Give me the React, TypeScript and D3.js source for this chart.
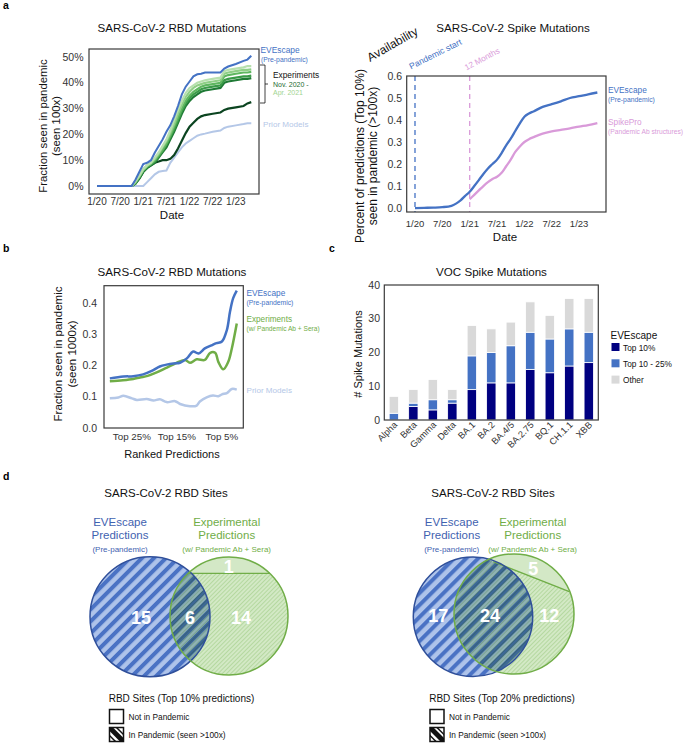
import React from 'react';
import * as d3 from 'd3';

const FONT = "'Liberation Sans', Arial, Helvetica, sans-serif";
const BLUE = '#4472c4';
const LIGHTBLUE = '#b4c7e7';
const PINK = '#d99ad9';
const GREEN = '#70ad47';

// ---------- Panel a (left): RBD mutations over time (months since Jan 2020)
const rbdMonths = [0, 9, 10, 11, 12, 13, 14, 15, 16, 17, 18, 19, 20, 21, 22, 23, 24, 25, 26, 27, 28, 30, 32, 33, 34, 36, 38, 39, 40];
const rbdEVEscape = [0, 0, 2.5, 5.5, 8.5, 9, 10, 13, 15.5, 18, 21, 23.5, 27, 31, 35.5, 38.5, 40.5, 42.5, 43.3, 43.5, 44, 44, 44, 45.5, 46.3, 47.3, 48.5, 49, 50.5];
const rbdPrior = [null, 0, 0, 0, 0, 1.5, 3, 4.5, 5.5, 5.8, 6, 9, 11, 13, 15, 16.5, 17.5, 18.5, 19.5, 20, 20.3, 21, 21.5, 22.5, 23, 23.5, 24, 24.3, 24.3];
const rbdExp1 = [null, 0, 2, 4, 6.5, 8, 9, 11, 13, 15.5, 18, 21.5, 25.5, 29.5, 33, 36, 38, 39, 40, 40.5, 41, 41.5, 42, 44.5, 45, 45.5, 46, 46.5, 46.5];
const rbdExp2 = [null, 0, 1.5, 4, 6.5, 8, 9, 10.5, 12.5, 15, 17.5, 20.5, 24, 28, 31.5, 34.5, 36.5, 38, 39, 39.5, 40, 40.5, 41, 43.5, 44, 44.5, 45, 45, 45.2];
const rbdExp3 = [null, 0, 1.5, 3.5, 6, 7.5, 8.5, 10, 12, 14, 16.5, 19.5, 23, 26.5, 30, 33, 35, 36.5, 37.5, 38.5, 39, 39.5, 40, 42.5, 43, 43.5, 44, 44, 44.2];
const rbdExp4 = [null, 0, 1, 3.5, 6, 7.5, 8.5, 9.5, 11.5, 13.5, 16, 19, 22, 25.5, 29, 32, 34, 35.5, 36.5, 37.5, 38, 38.5, 39, 41, 41.5, 42, 42.5, 42.5, 42.8];
const rbdExp5 = [null, 0, 1, 3, 5.5, 7, 8, 9, 11, 13, 15, 18, 21, 24.5, 28, 31, 33, 34.5, 35.5, 36.5, 37, 37.5, 38, 40, 40.5, 41, 41.5, 41.5, 41.8];
const rbdExp6 = [null, 0, 1, 3, 5.5, 7, 8, 9, 9.5, 10, 10, 10.5, 12, 14.5, 17.5, 20.5, 23, 24.5, 26, 27, 27.5, 28, 28.5, 29.5, 30, 30.5, 31, 32, 32.5];
const rbdExpSeries = [rbdExp6, rbdExp5, rbdExp4, rbdExp3, rbdExp2, rbdExp1];
const rbdExpColors = ['#0b4420', '#1f7a35', '#3a9a48', '#5fb760', '#8fcf86', '#b7e0ae'];
const rbdYTicks = [0, 10, 20, 30, 40, 50];

const dateTickMonths = [0, 6, 12, 18, 24, 30, 36];
const dateTickLabels = ['1/20', '7/20', '1/21', '7/21', '1/22', '7/22', '1/23'];

// ---------- Panel a (right): Spike mutations
const spikeMonths = [0, 2, 4, 6, 8, 9, 10, 11, 12, 13, 14, 15, 16, 17, 18, 19, 20, 21, 22, 23, 24, 25, 26, 28, 30, 32, 34, 36, 38, 40];
const spikeEVEscape = [0, 0.001, 0.002, 0.004, 0.01, 0.02, 0.035, 0.055, 0.074, 0.1, 0.127, 0.155, 0.18, 0.2, 0.22, 0.25, 0.285, 0.315, 0.35, 0.385, 0.415, 0.43, 0.439, 0.46, 0.472, 0.485, 0.5, 0.508, 0.517, 0.525];
const spikeProMonths = [12, 13, 14, 15, 16, 17, 18, 19, 20, 21, 22, 23, 24, 25, 26, 28, 30, 32, 34, 36, 38, 40];
const spikePro = [0.04, 0.06, 0.08, 0.1, 0.118, 0.132, 0.142, 0.16, 0.19, 0.22, 0.255, 0.28, 0.3, 0.313, 0.322, 0.338, 0.348, 0.355, 0.362, 0.37, 0.377, 0.386];
const spikeYTicks = [0, 0.1, 0.2, 0.3, 0.4, 0.5, 0.6];
const availabilityMonths = [0, 12];

// ---------- Panel b: ranked predictions (top x%)
const rankBluePct = [29.9, 26.9, 24.7, 22.5, 20.6, 18.8, 17.3, 15.8, 14.3, 12.8, 11.4, 10.2, 8.8, 7.3, 6.2, 5.0, 3.9, 3.2, 2.5, 1.7];
const rankBlueVal = [0.159, 0.165, 0.166, 0.172, 0.183, 0.197, 0.203, 0.207, 0.209, 0.223, 0.245, 0.239, 0.255, 0.265, 0.272, 0.277, 0.314, 0.373, 0.416, 0.44];
const rankGreenPct = [29.9, 27, 24.7, 23.2, 21.5, 19.5, 17.5, 15.0, 13.2, 12.1, 10.6, 8.8, 7.6, 6.5, 5.8, 4.7, 3.6, 2.8, 1.7];
const rankGreenVal = [0.15, 0.153, 0.157, 0.162, 0.167, 0.178, 0.192, 0.209, 0.218, 0.209, 0.22, 0.218, 0.241, 0.241, 0.212, 0.188, 0.212, 0.255, 0.335];
const rankPriorPct = [29.9, 28, 26.9, 25, 23.9, 21.7, 20.2, 18.8, 17.3, 15.4, 14.3, 12.1, 10.6, 9.9, 8.4, 7.0, 5.8, 5.0, 3.9, 2.8, 1.7];
const rankPriorVal = [0.095, 0.098, 0.103, 0.095, 0.09, 0.093, 0.088, 0.092, 0.083, 0.086, 0.077, 0.07, 0.072, 0.085, 0.098, 0.104, 0.102, 0.108, 0.112, 0.125, 0.123];
const rankXTicks = [25, 15, 5];
const rankYTicks = [0, 0.1, 0.2, 0.3, 0.4];

// ---------- Panel c: VOC spike mutations
const vocNames = ['Alpha', 'Beta', 'Gamma', 'Delta', 'BA.1', 'BA.2', 'BA.4/5', 'BA.2.75', 'BQ.1', 'CH.1.1', 'XBB'];
const vocTop10 = [0, 4, 3, 5, 9, 11, 11, 15, 14, 16, 17];
const vocTop10to25 = [2, 1, 3, 1, 10, 9, 11, 11, 10, 11, 9];
const vocOther = [5, 4, 6, 3, 9, 7, 7, 9, 7, 9, 10];
const vocKeys = ['Top 10%', 'Top 10 - 25%', 'Other'];
const vocColors = ['#000080', '#4472c4', '#d9d9d9'];
const vocYTicks = [0, 10, 20, 30, 40];

// ---------- Panel d: Venn counts [EVEscape only, both, experimental only (in pandemic), experimental not in pandemic]
const vennTop10 = [15, 6, 14, 1];
const vennTop20 = [17, 24, 12, 5];

function Box({ x0, x1, y0, y1 }) {
  return <rect x={x0} y={y0} width={x1 - x0} height={y1 - y0} fill="none" stroke="#3a3a3a" strokeWidth={1.2} />;
}

function Venn({ id, blue, green, chord, counts, numPos, blueLabelX, greenLabelX, legendTitle, legendX }) {
  const [p1, p2] = chord;
  const dx = p2[0] - p1[0], dy = p2[1] - p1[1];
  const a = [p1[0] - dx, p1[1] - dy];
  const b = [p2[0] + dx, p2[1] + dy];
  const poly = `${a[0]},${a[1]} ${b[0]},${b[1]} ${b[0]},${b[1] - 200} ${a[0]},${a[1] - 200}`;
  return (
    <g>
      <defs>
        <clipPath id={`gc-${id}`}><circle cx={green[0]} cy={green[1]} r={green[2]} /></clipPath>
      </defs>
      <text x={blueLabelX} y={525.5} textAnchor="middle" fontSize={11.5} fill="#3f62b0">EVEscape</text>
      <text x={blueLabelX} y={539} textAnchor="middle" fontSize={11.5} fill="#3f62b0">Predictions</text>
      <text x={blueLabelX} y={551.5} textAnchor="middle" fontSize={8} fill="#3f62b0">(Pre-pandemic)</text>
      <text x={greenLabelX} y={525.5} textAnchor="middle" fontSize={11.5} fill={GREEN}>Experimental</text>
      <text x={greenLabelX} y={539} textAnchor="middle" fontSize={11.5} fill={GREEN}>Predictions</text>
      <text x={greenLabelX} y={551.5} textAnchor="middle" fontSize={8} fill={GREEN}>(w/ Pandemic Ab + Sera)</text>

      <g style={{ isolation: 'isolate' }}>
        <circle cx={blue[0]} cy={blue[1]} r={blue[2]} fill="url(#blueStripes)" />
        <circle cx={green[0]} cy={green[1]} r={green[2]} fill="url(#greenHatch)" opacity={0.75} style={{ mixBlendMode: 'multiply' }} />
      </g>
      <polygon points={poly} clipPath={`url(#gc-${id})`} fill="#d3e8c6" />
      <line x1={p1[0]} y1={p1[1]} x2={p2[0]} y2={p2[1]} stroke={GREEN} strokeWidth={1.3} />
      <circle cx={blue[0]} cy={blue[1]} r={blue[2]} fill="none" stroke="#2f4f9a" strokeWidth={1.5} />
      <circle cx={green[0]} cy={green[1]} r={green[2]} fill="none" stroke={GREEN} strokeWidth={1.5} />
      {counts.map((c, i) => (
        <text key={i} x={numPos[i][0]} y={numPos[i][1] + 6.5} textAnchor="middle" fontSize={18} fontWeight="bold" fill="#fff">{c}</text>
      ))}

      <text x={legendX + 72} y={701.5} textAnchor="middle" fontSize={10} fill="#111">{legendTitle}</text>
      <rect x={legendX} y={709.5} width={14} height={14} fill="#fff" stroke="#111" strokeWidth={1.5} />
      <text x={legendX + 19} y={719.5} fontSize={8.3} fill="#111">Not in Pandemic</text>
      <defs>
        <clipPath id={`lg-${id}`}><rect x={legendX} y={727.5} width={14} height={14} /></clipPath>
      </defs>
      <g clipPath={`url(#lg-${id})`}>
        <rect x={legendX} y={727.5} width={14} height={14} fill="#fff" />
        <line x1={legendX - 2} y1={725.5} x2={legendX + 16} y2={743.5} stroke="#111" strokeWidth={5} />
        <line x1={legendX + 5} y1={725.5} x2={legendX + 20} y2={740.5} stroke="#111" strokeWidth={1.5} />
        <line x1={legendX - 6} y1={729.5} x2={legendX + 9} y2={744.5} stroke="#111" strokeWidth={1.5} />
      </g>
      <rect x={legendX} y={727.5} width={14} height={14} fill="none" stroke="#111" strokeWidth={1.5} />
      <text x={legendX + 19} y={737.5} fontSize={8.3} fill="#111">In Pandemic (seen &gt;100x)</text>
    </g>
  );
}

export default function App() {
  // ----- panel a left
  const xA1 = d3.scaleLinear().domain([-2.07, 42]).range([89, 259]);
  const yA1 = d3.scaleLinear().domain([-3.1, 53.1]).range([194, 49]);
  const lineA1 = d3.line().defined((d) => d[1] != null).x((d) => xA1(d[0])).y((d) => yA1(d[1]));
  const ptsA1 = (vals) => rbdMonths.map((m, i) => [m, vals[i]]);

  // ----- panel a right
  const xA2 = d3.scaleLinear().domain([-1.82, 41.9]).range([406.7, 606]);
  const yA2 = d3.scaleLinear().domain([-0.018, 0.6]).range([212, 76]);
  const lineA2 = d3.line().x((d) => xA2(d[0])).y((d) => yA2(d[1])).curve(d3.curveMonotoneX);

  // ----- panel b
  const xB = d3.scaleLinear().domain([31.2, 0.25]).range([104, 243.3]);
  const yB = d3.scaleLinear().domain([0, 0.456]).range([428, 285.7]);
  const lineB = d3.line().x((d) => xB(d[0])).y((d) => yB(d[1])).curve(d3.curveCatmullRom.alpha(0.5));

  // ----- panel c
  const xC = d3.scaleBand().domain(vocNames).range([384.3, 598.3]).paddingInner(0.52).paddingOuter(0.25);
  const yC = d3.scaleLinear().domain([0, 40]).range([420, 285]);
  const vocRows = vocNames.map((n, i) => ({ name: n, 'Top 10%': vocTop10[i], 'Top 10 - 25%': vocTop10to25[i], Other: vocOther[i] }));
  const stacked = d3.stack().keys(vocKeys)(vocRows);

  const tickFs = 10.5;
  const tickFill = '#333';

  return (
    <svg width={685} height={743} style={{ position: 'absolute', left: 0, top: 0, background: '#fff' }} fontFamily={FONT}>
      <defs>
        <pattern id="blueStripes" patternUnits="userSpaceOnUse" width={8.5} height={8.5} patternTransform="rotate(45)">
          <rect width={8.5} height={8.5} fill="#aec3ea" />
          <rect width={4} height={8.5} fill="#4a72c4" />
        </pattern>
        <pattern id="greenHatch" patternUnits="userSpaceOnUse" width={3} height={3} patternTransform="rotate(45)">
          <rect width={3} height={3} fill="#c4e2b2" />
          <rect width={1} height={3} fill="#9ccb80" />
        </pattern>
      </defs>

      {/* panel letters */}
      <text x={3} y={9} fontSize={10.5} fontWeight="bold">a</text>
      <text x={3} y={252} fontSize={10.5} fontWeight="bold">b</text>
      <text x={329} y={252} fontSize={10.5} fontWeight="bold">c</text>
      <text x={3} y={480} fontSize={10.5} fontWeight="bold">d</text>

      {/* ================= Panel a left ================= */}
      <text x={172} y={32} textAnchor="middle" fontSize={11.6} fill="#111">SARS-CoV-2 RBD Mutations</text>
      <text transform="translate(47,126) rotate(-90)" textAnchor="middle" fontSize={11.4} fill="#111">Fraction seen in pandemic</text>
      <text transform="translate(59.5,126) rotate(-90)" textAnchor="middle" fontSize={11.4} fill="#111">(seen 100x)</text>
      {rbdYTicks.map((t) => (
        <text key={t} x={83.5} y={yA1(t) + 3.7} textAnchor="end" fontSize={tickFs} fill={tickFill}>{t}%</text>
      ))}
      {dateTickMonths.map((m, i) => (
        <text key={m} x={xA1(m)} y={205} textAnchor="middle" fontSize={10} fill={tickFill}>{dateTickLabels[i]}</text>
      ))}
      <text x={172} y={219} textAnchor="middle" fontSize={11.5} fill="#111">Date</text>
      <path d={lineA1(ptsA1(rbdPrior))} fill="none" stroke={LIGHTBLUE} strokeWidth={2} />
      {rbdExpSeries.map((s, i) => (
        <path key={i} d={lineA1(ptsA1(s))} fill="none" stroke={rbdExpColors[i]} strokeWidth={2.2} />
      ))}
      <path d={lineA1(ptsA1(rbdEVEscape))} fill="none" stroke={BLUE} strokeWidth={2} />
      <Box x0={89} x1={259} y0={49} y1={194} />
      <text x={260.5} y={53} fontSize={8.4} fill={BLUE}>EVEscape</text>
      <text x={261} y={61.5} fontSize={6.8} fill={BLUE}>(Pre-pandemic)</text>
      <path d="M260,65 H265 V103 H260 M265,84 H268" fill="none" stroke="#111" strokeWidth={0.8} />
      <text x={273} y={78} fontSize={8.3} fill="#111">Experiments</text>
      <text x={273} y={86.5} fontSize={7} fill="#1f6b30">Nov. 2020 -</text>
      <text x={273} y={95} fontSize={7} fill="#9fd491">Apr. 2021</text>
      <text x={263} y={127} fontSize={8.1} fill={LIGHTBLUE}>Prior Models</text>

      {/* ================= Panel a right ================= */}
      <text x={513} y={32} textAnchor="middle" fontSize={11.6} fill="#111">SARS-CoV-2 Spike Mutations</text>
      <text transform="translate(370,62) rotate(-30)" fontSize={12} fill="#111">Availability</text>
      <text transform="translate(411,69.5) rotate(-26.5)" fontSize={8.6} fill={BLUE}>Pandemic start</text>
      <text transform="translate(466.5,70.5) rotate(-28)" fontSize={8.2} fill={PINK}>12 Months</text>
      <text transform="translate(364,156) rotate(-90)" textAnchor="middle" fontSize={12} fill="#111">Percent of predictions (Top 10%)</text>
      <text transform="translate(377,156) rotate(-90)" textAnchor="middle" fontSize={12} fill="#111">seen in pandemic (&gt;100x)</text>
      {spikeYTicks.map((t) => (
        <text key={t} x={402} y={yA2(t) + 3.7} textAnchor="end" fontSize={tickFs} fill={tickFill}>{t.toFixed(1)}</text>
      ))}
      {dateTickMonths.map((m, i) => (
        <text key={m} x={xA2(m)} y={227} textAnchor="middle" fontSize={9.5} fill={tickFill}>{dateTickLabels[i]}</text>
      ))}
      <text x={505} y={241} textAnchor="middle" fontSize={11.5} fill="#111">Date</text>
      {availabilityMonths.map((m, i) => (
        <line key={m} x1={xA2(m)} x2={xA2(m)} y1={76} y2={212} stroke={i === 0 ? BLUE : PINK} strokeWidth={1.3} strokeDasharray="5,4" />
      ))}
      <path d={lineA2(spikeProMonths.map((m, i) => [m, spikePro[i]]))} fill="none" stroke={PINK} strokeWidth={2.3} />
      <path d={lineA2(spikeMonths.map((m, i) => [m, spikeEVEscape[i]]))} fill="none" stroke={BLUE} strokeWidth={2.3} />
      <Box x0={406.7} x1={606} y0={76} y1={212} />
      <text x={608} y={93} fontSize={8.3} fill={BLUE}>EVEscape</text>
      <text x={608} y={101.5} fontSize={6.8} fill={BLUE}>(Pre-pandemic)</text>
      <text x={608} y={125} fontSize={8.3} fill={PINK}>SpikePro</text>
      <text x={608} y={133.5} fontSize={6.7} fill={PINK}>(Pandemic Ab structures)</text>

      {/* ================= Panel b ================= */}
      <text x={172} y={275.5} textAnchor="middle" fontSize={11.6} fill="#111">SARS-CoV-2 RBD Mutations</text>
      <text transform="translate(62,354) rotate(-90)" textAnchor="middle" fontSize={11.5} fill="#111">Fraction seen in pandemic</text>
      <text transform="translate(75.5,354) rotate(-90)" textAnchor="middle" fontSize={11.5} fill="#111">(seen 1000x)</text>
      {rankYTicks.map((t) => (
        <text key={t} x={97} y={yB(t) + 3.7} textAnchor="end" fontSize={tickFs} fill={tickFill}>{t.toFixed(1)}</text>
      ))}
      {rankXTicks.map((t) => (
        <text key={t} x={xB(t)} y={440} textAnchor="middle" fontSize={9.8} fill={tickFill}>Top {t}%</text>
      ))}
      <text x={172} y={458} textAnchor="middle" fontSize={11} fill="#111">Ranked Predictions</text>
      <path d={lineB(rankPriorPct.map((p, i) => [p, rankPriorVal[i]]))} fill="none" stroke={LIGHTBLUE} strokeWidth={2.5} />
      <path d={lineB(rankGreenPct.map((p, i) => [p, rankGreenVal[i]]))} fill="none" stroke={GREEN} strokeWidth={2.5} />
      <path d={lineB(rankBluePct.map((p, i) => [p, rankBlueVal[i]]))} fill="none" stroke={BLUE} strokeWidth={2.5} />
      <Box x0={104} x1={243.3} y0={285.7} y1={428} />
      <text x={246.5} y={295.5} fontSize={8.3} fill={BLUE}>EVEscape</text>
      <text x={246.5} y={304.5} fontSize={6.8} fill={BLUE}>(Pre-pandemic)</text>
      <text x={246.5} y={321.5} fontSize={8.2} fill={GREEN}>Experiments</text>
      <text x={246.5} y={330.5} fontSize={6.6} fill={GREEN}>(w/ Pandemic Ab + Sera)</text>
      <text x={246.5} y={393} fontSize={8.1} fill={LIGHTBLUE}>Prior Models</text>

      {/* ================= Panel c ================= */}
      <text x={491.5} y={275.5} textAnchor="middle" fontSize={11.6} fill="#111">VOC Spike Mutations</text>
      <text transform="translate(362,354) rotate(-90)" textAnchor="middle" fontSize={11} fill="#111"># Spike Mutations</text>
      {vocYTicks.map((t) => (
        <text key={t} x={380} y={yC(t) + 3.7} textAnchor="end" fontSize={tickFs} fill={tickFill}>{t}</text>
      ))}
      {stacked.map((layer, li) => (
        <g key={layer.key}>
          {layer.map((d, i) => (
            d[1] > d[0] ? (
              <rect key={i} x={xC(vocNames[i])} width={xC.bandwidth()} y={yC(d[1])} height={yC(d[0]) - yC(d[1])}
                fill={vocColors[li]} stroke="#fff" strokeWidth={0.8} />
            ) : null
          ))}
        </g>
      ))}
      {vocNames.map((n) => (
        <text key={n} transform={`translate(${xC(n) + xC.bandwidth() / 2 + 4},${425.5}) rotate(-45)`} textAnchor="end" fontSize={9.2} fill={tickFill}>{n}</text>
      ))}
      <Box x0={384.3} x1={598.3} y0={285} y1={420} />
      <text x={610.5} y={338.5} fontSize={10} fill="#111">EVEscape</text>
      {vocKeys.map((k, i) => (
        <g key={k}>
          <rect x={611.5} y={343 + i * 16.3} width={8} height={8} fill={vocColors[i]} />
          <text x={623} y={350.5 + i * 16.3} fontSize={8.3} fill="#111">{k}</text>
        </g>
      ))}

      {/* ================= Panel d ================= */}
      <text x={166} y={496.5} textAnchor="middle" fontSize={11.5} fill="#111">SARS-CoV-2 RBD Sites</text>
      <text x={493} y={496.5} textAnchor="middle" fontSize={11.5} fill="#111">SARS-CoV-2 RBD Sites</text>
      <Venn id="l" blue={[150, 616.7, 60]} green={[229, 616, 59]} chord={[[188, 573.3], [270, 573.3]]}
        counts={vennTop10} numPos={[[141, 617], [190, 617], [241, 617], [228.7, 566]]}
        blueLabelX={120} greenLabelX={226.7} legendTitle="RBD Sites (Top 10% predictions)" legendX={109.5} />
      <Venn id="r" blue={[473, 616.7, 59.7]} green={[514, 614, 60]} chord={[[493.3, 561.7], [569.3, 591.7]]}
        counts={vennTop20} numPos={[[438.3, 615], [490, 615], [549.3, 615], [533.3, 568.3]]}
        blueLabelX={451.7} greenLabelX={532.7} legendTitle="RBD Sites (Top 20% predictions)" legendX={430} />
    </svg>
  );
}
